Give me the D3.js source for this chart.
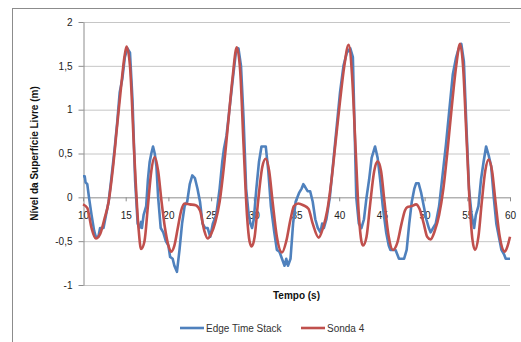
<!DOCTYPE html>
<html>
<head>
<meta charset="utf-8">
<script src="https://d3js.org/d3.v7.min.js"></script>
<style>
  body { margin: 0; background: #fff; }
  svg { display: block; font-family: "Liberation Sans", Arial, sans-serif; }
  .tick text { fill: #222; font-size: 10px; }
  .grid line { stroke: #c6c6c6; }
  .axis path, .axis line { stroke: #8c8c8c; }
</style>
</head>
<body>
<script>
// series data, [tempo (s), nivel (m)]
var edgeTimeStack = [
  [10,0.24],[10.2,0.24],[10.3,0.17],[10.5,0.15],[10.7,0.0],[11,-0.2],[11.3,-0.38],[11.5,-0.45],[11.8,-0.45],
  [12,-0.35],[12.4,-0.35],[12.7,-0.2],[13,-0.05],[13.3,0.2],[13.7,0.55],[14,0.85],[14.3,1.2],[14.6,1.35],
  [14.9,1.6],[15.2,1.7],[15.5,1.65],[15.8,1.1],[16.1,0.2],[16.4,-0.3],[16.6,-0.35],[16.8,-0.28],[16.9,-0.35],
  [17.1,-0.2],[17.4,-0.1],[17.6,0.2],[17.8,0.4],[18.0,0.5],[18.2,0.58],[18.4,0.5],[18.6,0.35],[18.8,0.0],
  [19.1,-0.35],[19.4,-0.4],[19.7,-0.5],[20,-0.55],[20.2,-0.68],[20.5,-0.7],[20.7,-0.78],[21.0,-0.85],
  [21.3,-0.6],[21.6,-0.3],[21.9,-0.1],[22.2,-0.05],[22.5,0.15],[22.8,0.25],[23.1,0.22],[23.4,0.1],
  [23.7,-0.05],[24.0,-0.3],[24.3,-0.35],[24.6,-0.35],[24.9,-0.45],[25.2,-0.3],[25.6,-0.2],[26,0.1],
  [26.3,0.4],[26.5,0.55],[26.8,0.7],[27.2,1.05],[27.6,1.4],[27.9,1.65],[28.2,1.7],[28.5,1.5],[28.8,0.9],
  [29.1,0.1],[29.4,-0.2],[29.6,-0.3],[29.8,-0.35],[30.0,-0.25],[30.3,0.1],[30.6,0.4],[30.9,0.58],[31.4,0.58],
  [31.7,0.3],[32.0,-0.1],[32.4,-0.4],[32.7,-0.6],[33.0,-0.62],[33.3,-0.7],[33.6,-0.78],[33.8,-0.7],[34.0,-0.78],
  [34.3,-0.7],[34.6,-0.3],[34.9,-0.05],[35.3,0.05],[35.6,0.1],[35.8,0.15],[36.0,0.12],[36.3,0.07],[36.6,0.07],
  [36.9,-0.05],[37.2,-0.25],[37.5,-0.35],[37.8,-0.4],[38.0,-0.3],[38.2,-0.35],[38.5,-0.25],[38.9,0.0],
  [39.3,0.4],[39.7,0.8],[40.1,1.2],[40.5,1.5],[40.9,1.65],[41.3,1.7],[41.6,1.6],[41.8,0.8],[42.0,0.0],
  [42.3,-0.3],[42.6,-0.35],[42.9,-0.25],[43.2,0.0],[43.5,0.2],[43.8,0.45],[44.2,0.58],[44.5,0.45],[44.8,0.2],
  [45.1,-0.1],[45.5,-0.4],[45.8,-0.55],[46.0,-0.6],[46.6,-0.6],[47.0,-0.7],[47.6,-0.7],[47.9,-0.6],[48.2,-0.3],
  [48.5,-0.05],[48.8,0.1],[49.0,0.16],[49.3,0.16],[49.6,0.05],[49.9,-0.1],[50.2,-0.25],[50.5,-0.35],[50.7,-0.4],
  [51.0,-0.35],[51.3,-0.3],[51.7,-0.1],[52.1,0.25],[52.5,0.6],[52.9,1.0],[53.3,1.4],[53.7,1.6],[54.0,1.7],
  [54.3,1.75],[54.6,1.55],[54.9,0.8],[55.2,0.1],[55.5,-0.2],[55.8,-0.35],[56.0,-0.2],[56.3,-0.1],[56.6,0.2],
  [56.9,0.4],[57.2,0.58],[57.5,0.48],[57.8,0.35],[58.1,0.0],[58.4,-0.3],[58.8,-0.5],[59.0,-0.6],[59.3,-0.65],
  [59.5,-0.7],[60,-0.7]
];

var sonda4 = [
  [10,-0.08],[10.5,-0.12],[11,-0.35],[11.5,-0.47],[12,-0.42],[12.5,-0.25],[13,-0.05],[13.5,0.33],[14,0.82],
  [14.5,1.3],[14.85,1.6],[15.1,1.72],[15.5,1.5],[16,0.5],[16.5,-0.35],[16.8,-0.59],[17.2,-0.5],[17.6,-0.1],
  [18,0.3],[18.4,0.46],[18.8,0.3],[19.2,-0.05],[19.6,-0.35],[20,-0.55],[20.3,-0.62],[20.7,-0.55],[21.1,-0.35],
  [21.5,-0.15],[21.9,-0.07],[22.5,-0.08],[23.2,-0.09],[23.7,-0.15],[24.2,-0.38],[24.6,-0.47],[25,-0.42],
  [25.5,-0.28],[26,-0.05],[26.5,0.35],[27,0.85],[27.5,1.35],[28,1.71],[28.4,1.45],[28.8,0.6],[29.2,-0.2],
  [29.5,-0.5],[29.75,-0.56],[30.1,-0.45],[30.5,-0.05],[31,0.35],[31.4,0.44],[31.8,0.3],[32.2,-0.05],[32.7,-0.45],
  [33.3,-0.63],[33.8,-0.5],[34.3,-0.25],[34.7,-0.1],[35.2,-0.07],[35.8,-0.09],[36.4,-0.13],[36.9,-0.3],
  [37.6,-0.46],[38.1,-0.35],[38.6,-0.15],[39.1,0.2],[39.6,0.65],[40.1,1.1],[40.6,1.5],[41.1,1.74],[41.5,1.4],
  [41.9,0.6],[42.3,-0.2],[42.6,-0.5],[42.8,-0.55],[43.2,-0.45],[43.6,-0.1],[44.1,0.3],[44.5,0.41],[44.9,0.3],
  [45.3,-0.05],[45.8,-0.45],[46.3,-0.6],[46.8,-0.52],[47.3,-0.3],[47.7,-0.15],[48,-0.11],[48.5,-0.1],[49,-0.08],
  [49.4,-0.13],[49.9,-0.3],[50.3,-0.45],[50.7,-0.48],[51.2,-0.38],[51.7,-0.2],[52.2,0.1],[52.7,0.55],[53.2,1.05],
  [53.7,1.5],[54.15,1.75],[54.5,1.5],[54.9,0.7],[55.3,-0.1],[55.6,-0.48],[55.9,-0.6],[56.3,-0.45],[56.7,-0.05],
  [57.1,0.3],[57.5,0.43],[57.9,0.3],[58.3,-0.05],[58.8,-0.45],[59.4,-0.62],[59.7,-0.56],[60,-0.45]
];

var xTicks = [10, 15, 20, 25, 30, 35, 40, 45, 50, 55, 60];
var yTicks = [-1, -0.5, 0, 0.5, 1, 1.5, 2];
var seriesNames = ["Edge Time Stack", "Sonda 4"];
var seriesColors = ["#4f81bd", "#c0504d"];

var width = 521, height = 342;
var x = d3.scaleLinear().domain([10, 60]).range([83, 510]);
var y = d3.scaleLinear().domain([-1, 2]).range([285, 22]);
var fmt = function(d){ return String(d).replace(".", ",").replace("-", "-"); };

var svg = d3.select("body").append("svg").attr("width", width).attr("height", height);

// chart area border
svg.append("rect")
  .attr("x", 12.5).attr("y", 8.5)
  .attr("width", width).attr("height", height)
  .attr("fill", "none").attr("stroke", "#8c8c8c");

// Gridlines
var grid = svg.append("g").attr("class", "grid")
  .attr("transform", "translate(" + x.range()[0] + ",0)")
  .call(d3.axisLeft(y).tickValues(yTicks.filter(function(d){ return d !== 0; }))
    .tickSize(-(x.range()[1] - x.range()[0])).tickFormat(""));
grid.select(".domain").remove();

// Y axis
svg.append("g").attr("class", "axis")
  .attr("transform", "translate(" + (x.range()[0] + 0.5) + ",0)")
  .call(d3.axisLeft(y).tickValues(yTicks).tickFormat(fmt).tickSize(5).tickPadding(6).tickSizeOuter(0));

// X axis sits on zero
svg.append("g").attr("class", "axis")
  .attr("transform", "translate(0," + y(0) + ")")
  .call(d3.axisBottom(x).tickValues(xTicks).tickSize(4).tickPadding(11).tickSizeOuter(0));

svg.selectAll(".axis .tick text").attr("font-family", "Liberation Sans, Arial, sans-serif");

// Lines
var lineLinear = d3.line().x(function(d){ return x(d[0]); }).y(function(d){ return y(d[1]); });
var lineSmooth = d3.line().curve(d3.curveMonotoneX).x(function(d){ return x(d[0]); }).y(function(d){ return y(d[1]); });

svg.append("path").datum(edgeTimeStack)
  .attr("d", lineLinear).attr("fill", "none")
  .attr("stroke", seriesColors[0]).attr("stroke-width", 2.6).attr("stroke-linejoin", "round");

svg.append("path").datum(sonda4)
  .attr("d", lineSmooth).attr("fill", "none")
  .attr("stroke", seriesColors[1]).attr("stroke-width", 2.6).attr("stroke-linejoin", "round");

// Titles
svg.append("text")
  .attr("transform", "translate(38," + y(0.5) + ") rotate(-90)")
  .attr("text-anchor", "middle").attr("font-size", 10).attr("font-weight", "bold").attr("fill", "#111")
  .text("Nível da Superfície Livre (m)");

svg.append("text")
  .attr("x", (x.range()[0] + x.range()[1]) / 2).attr("y", 299)
  .attr("text-anchor", "middle").attr("font-size", 10).attr("font-weight", "bold").attr("fill", "#111")
  .text("Tempo (s)");

// Legend
var legendX = [180, 301];
var legend = svg.selectAll(".legend").data(seriesNames).enter().append("g")
  .attr("transform", function(d, i){ return "translate(" + legendX[i] + ",328)"; });
legend.append("line").attr("x1", 0).attr("x2", 24)
  .attr("stroke", function(d, i){ return seriesColors[i]; }).attr("stroke-width", 2.6);
legend.append("text").attr("x", 26).attr("y", 3.5).attr("font-size", 10).attr("fill", "#333")
  .text(function(d){ return d; });
</script>
</body>
</html>
